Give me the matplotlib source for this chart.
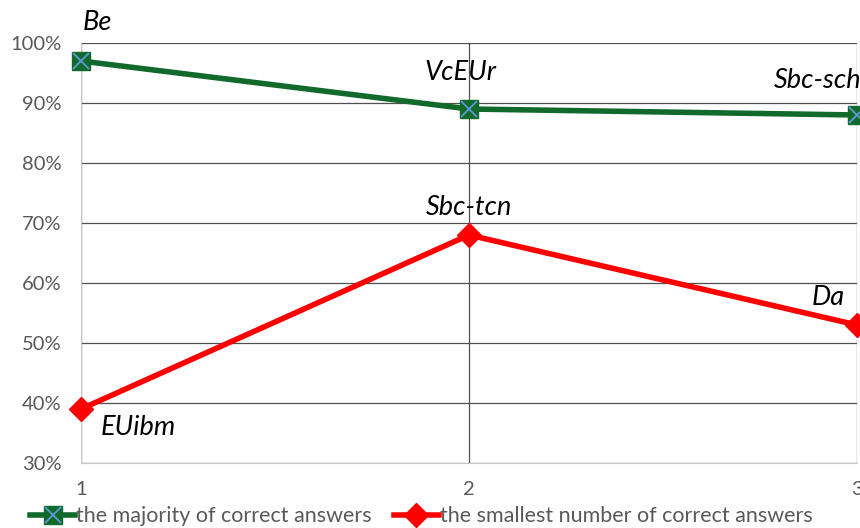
import matplotlib

matplotlib.use("Agg")
import matplotlib.pyplot as plt  # noqa: E402
from matplotlib.legend_handler import HandlerTuple  # noqa: E402

x = [1, 2, 3]
majority = [97, 89, 88]
smallest = [39, 68, 53]
majority_labels = ["Be", "VcEUr", "Sbc-sch"]
smallest_labels = ["EUibm", "Sbc-tcn", "Da"]
yticks = [30, 40, 50, 60, 70, 80, 90, 100]

GREEN = "#11692c"
RED = "#ff0000"
GRID = "#505050"
TICK = "#595959"

plt.rcParams["font.family"] = ["Lato", "DejaVu Sans"]

fig = plt.figure(figsize=(8.6, 5.28), dpi=100)
ax = fig.add_axes([81 / 860, 1 - 463 / 528, 776 / 860, 420 / 528])

g_line, = ax.plot(x, majority, color=GREEN, lw=4, marker="s", ms=13,
                  mfc=GREEN, mec=GREEN, clip_on=False, zorder=4)
g_x, = ax.plot(x, majority, ls="none", marker="x", ms=11, mew=1.3,
               color="#5b9bd5", clip_on=False, zorder=5)
r_line, = ax.plot(x, smallest, color=RED, lw=4, marker="D", ms=12,
                  mfc=RED, mec=RED, clip_on=False, zorder=4)

ax.set_xlim(1, 3)
ax.set_ylim(30, 100)
ax.set_yticks(yticks)
ax.set_yticklabels([f"{v}%" for v in yticks])
ax.set_xticks(x)
ax.tick_params(length=0, labelsize=14.5, colors=TICK)
ax.tick_params(axis="y", pad=14)
ax.tick_params(axis="x", pad=13)
ax.grid(True, color=GRID, lw=0.9)
ax.set_axisbelow(True)
for side in ["top", "right"]:
    ax.spines[side].set_visible(False)
ax.spines["left"].set_color("#c8c8c8")
ax.spines["bottom"].set_color("#c8c8c8")

# point labels (offsets in points)
lab_kw = dict(textcoords="offset points", fontsize=19.5, style="italic", color="black")
ax.annotate(majority_labels[0], (x[0], majority[0]), xytext=(1, 28), ha="left", va="center", **lab_kw)
ax.annotate(majority_labels[1], (x[1], majority[1]), xytext=(-6, 26), ha="center", va="center", **lab_kw)
ax.annotate(majority_labels[2], (x[2], majority[2]), xytext=(3, 25), ha="right", va="center", **lab_kw)
ax.annotate(smallest_labels[0], (x[0], smallest[0]), xytext=(14, -13), ha="left", va="center", **lab_kw)
ax.annotate(smallest_labels[1], (x[1], smallest[1]), xytext=(0, 20), ha="center", va="center", **lab_kw)
ax.annotate(smallest_labels[2], (x[2], smallest[2]), xytext=(-9, 20), ha="right", va="center", **lab_kw)

fig.legend([(g_line, g_x), r_line],
           ["the majority of correct answers", "the smallest number of correct answers"],
           handler_map={tuple: HandlerTuple()},
           loc="lower center", bbox_to_anchor=(0.49, -0.033), ncol=2, frameon=False,
           fontsize=15.5, labelcolor=TICK, handlelength=2.1, handletextpad=0.05,
           columnspacing=1.0)

fig.savefig("out.png", dpi=100)
